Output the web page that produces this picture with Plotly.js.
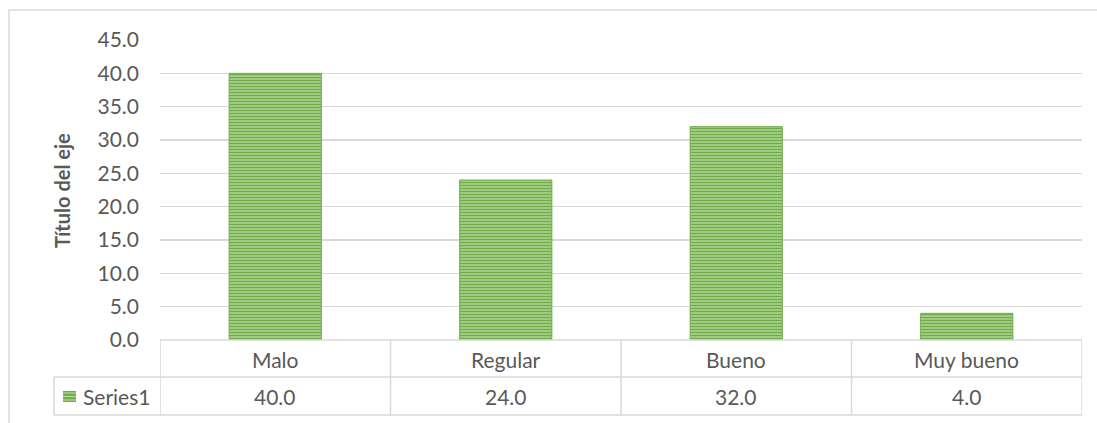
<!DOCTYPE html>
<html>
<head>
<meta charset="utf-8">
<script src="https://cdn.plot.ly/plotly-3.0.1.min.js"></script>
<style>html,body{margin:0;padding:0;background:#fff;}#chart{width:1097px;height:423px;}</style>
</head>
<body>
<div id="chart"></div>
<script>
var categories = ["Malo", "Regular", "Bueno", "Muy bueno"];
var values = [40.0, 24.0, 32.0, 4.0];
var seriesName = "Series1";
var yTitle = "Título del eje";

var GREEN = "#70AD47";
var LIGHT = "#B4D89C";
var GRID = "#D9D9D9";
var TXT = "#595959";
var FONT = "Lato, 'Open Sans', sans-serif";

// plot area: x 160..1082 px, y 40..340 px
var L = 160, R = 1082, T = 40, B = 340, W = R - L, H = B - T;
function px(x) { return (x - L) / W; }
function py(y) { return (B - y) / H; }

var trace = {
  type: "bar",
  x: categories,
  y: values,
  name: seriesName,
  width: 0.4,
  marker: {
    color: GREEN,
    line: {color: GREEN, width: 1},
    pattern: {shape: "-", fgcolor: GREEN, bgcolor: LIGHT, size: 3, solidity: 0.55, fillmode: "replace"}
  },
  hoverinfo: "x+y"
};

var shapes = [];
var lineStyle = {color: GRID, width: 1.5};
// outer chart frame
shapes.push({type: "rect", xref: "paper", yref: "paper", x0: px(9), x1: px(1110), y0: py(440), y1: py(10), line: lineStyle, fillcolor: "rgba(0,0,0,0)", layer: "below"});
// table horizontal lines
shapes.push({type: "line", xref: "paper", yref: "paper", x0: px(54), x1: 1, y0: py(377), y1: py(377), line: lineStyle});
shapes.push({type: "line", xref: "paper", yref: "paper", x0: px(54), x1: 1, y0: py(415), y1: py(415), line: lineStyle});
shapes.push({type: "line", xref: "paper", yref: "paper", x0: 0, x1: 1, y0: 0, y1: 0, line: lineStyle});
// table vertical lines
shapes.push({type: "line", xref: "paper", yref: "paper", x0: px(54), x1: px(54), y0: py(377), y1: py(415), line: lineStyle});
for (var i = 0; i <= categories.length; i++) {
  shapes.push({type: "line", xref: "x", yref: "paper", x0: i - 0.5, x1: i - 0.5, y0: 0, y1: py(415), line: lineStyle});
}
// legend key swatch in table
shapes.push({type: "rect", xref: "paper", yref: "paper", x0: px(63), x1: px(76), y0: py(402), y1: py(391), line: {width: 0}, fillcolor: GREEN});
for (var k = 0; k < 3; k++) {
  var yy = 393 + k * 3.5;
  shapes.push({type: "line", xref: "paper", yref: "paper", x0: px(63), x1: px(76), y0: py(yy), y1: py(yy), line: {color: "#B7D9A0", width: 1.2}});
}

var annotations = [];
categories.forEach(function (c, i) {
  annotations.push({x: c, y: py(359), xref: "x", yref: "paper", text: c, showarrow: false, xanchor: "center", yanchor: "middle", font: {family: FONT, size: 21, color: TXT}});
  annotations.push({x: c, y: py(396), xref: "x", yref: "paper", text: values[i].toFixed(1), showarrow: false, xanchor: "center", yanchor: "middle", font: {family: FONT, size: 21, color: TXT}});
});
annotations.push({x: px(81), y: py(396), xref: "paper", yref: "paper", text: seriesName, showarrow: false, xanchor: "left", yanchor: "middle", font: {family: FONT, size: 21, color: TXT}});
annotations.push({x: px(62), y: py(191), xref: "paper", yref: "paper", text: "<b>" + yTitle + "</b>", textangle: -90, showarrow: false, xanchor: "center", yanchor: "middle", font: {family: FONT, size: 20, color: TXT}});

var layout = {
  width: 1097, height: 423,
  margin: {l: L, r: 1097 - R, t: T, b: 423 - B, pad: 0},
  paper_bgcolor: "#fff", plot_bgcolor: "#fff",
  showlegend: false,
  font: {family: FONT, size: 21, color: TXT},
  xaxis: {type: "category", range: [-0.5, categories.length - 0.5], showticklabels: false, showgrid: false, zeroline: false, showline: false, ticks: ""},
  yaxis: {range: [0, 45], dtick: 5, tick0: 0, tickformat: ".1f", showgrid: true, gridcolor: GRID, gridwidth: 1.5, zeroline: false, showline: false, ticks: "", ticklabelstandoff: 20, tickfont: {family: FONT, size: 21, color: TXT}},
  shapes: shapes,
  annotations: annotations,
  bargap: 0.6
};

Plotly.newPlot("chart", [trace], layout, {displayModeBar: false, staticPlot: true});
</script>
</body>
</html>
